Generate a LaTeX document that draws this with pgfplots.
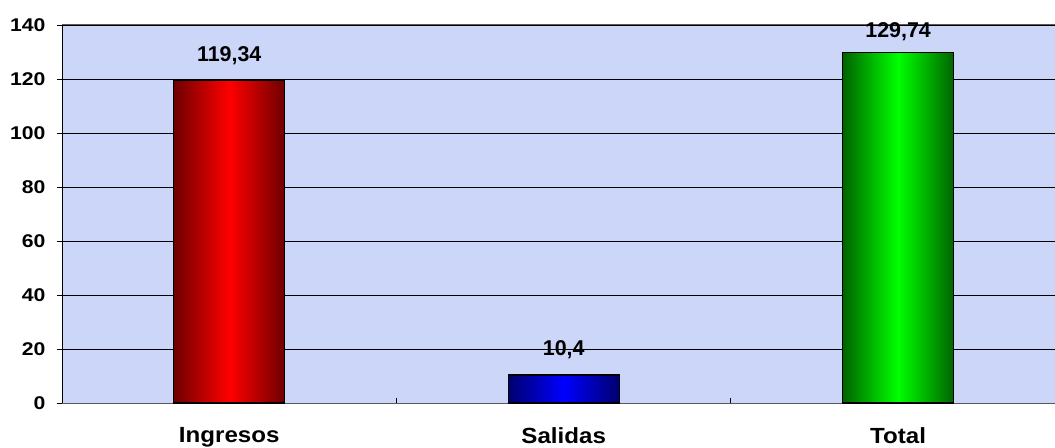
\documentclass[border=0pt]{standalone}
\usepackage{pgfplots}
\pgfplotsset{compat=1.18}
\usepackage{fontspec}
\setmainfont{Liberation Sans}
\newfontfamily\tickf[FakeStretch=1.15]{Liberation Sans}
\newfontfamily\catf[FakeStretch=1.1]{Liberation Sans}
\definecolor{bgc}{RGB}{203,214,248}
\definecolor{dred}{RGB}{110,0,0}
\definecolor{bred}{RGB}{255,0,0}
\definecolor{dblue}{RGB}{0,0,110}
\definecolor{bblue}{RGB}{0,0,255}
\definecolor{dgreen}{RGB}{0,100,0}
\definecolor{bgreen}{RGB}{0,255,0}
\begin{document}
\begin{tikzpicture}
\begin{axis}[
  scale only axis,
  width=993bp, height=378bp,
  xmin=-0.5, xmax=2.469,
  ymin=0, ymax=140,
  axis background/.style={fill=bgc},
  separate axis lines,
  x axis line style={draw=gray!70!black, line width=1pt},
  y axis line style={draw=none},
  ytick={0,20,...,140},
  ymajorgrids,
  major grid style={black, line width=0.8pt},
  y tick style={black, line width=0.8pt},
  ytick align=outside,
  ytick pos=left,
  major tick length=5bp,
  yticklabel style={font=\tickf\bfseries\fontsize{18.5}{20}\selectfont, xshift=-8bp},
  /pgf/number format/assume math mode=true,
  xtick={0,1,2},
  xticklabels={Ingresos,Salidas,Total},
  xticklabel style={font=\catf\bfseries\fontsize{22}{24}\selectfont, yshift=-21bp},
  x tick style={draw=none},
  xtick pos=bottom,
  extra x ticks={0.5,1.5},
  extra x tick labels={},
  extra x tick style={x tick style={draw=black, line width=1pt}, xtick align=inside, xmajorgrids=false},
  bar width=111bp,
  nodes near coords,
  every node near coord/.append style={font=\bfseries\fontsize{21.5}{23}\selectfont, yshift=12bp, black},
  clip=false,
]
\addplot[ybar, bar shift=0pt, draw=black, line width=1.2pt, left color=dred, right color=dred, middle color=bred,
  nodes near coords={119,34}] coordinates {(0,119.34)};
\addplot[ybar, bar shift=0pt, draw=black, line width=1.2pt, left color=dblue, right color=dblue, middle color=bblue,
  nodes near coords={10,4}] coordinates {(1,10.4)};
\addplot[ybar, bar shift=0pt, draw=black, line width=1.2pt, left color=dgreen, right color=dgreen, middle color=bgreen,
  nodes near coords={129,74}, every node near coord/.append style={yshift=-4bp}] coordinates {(2,129.74)};
\draw[gray!70!black, line width=1pt] (rel axis cs:0,1) -- (rel axis cs:1,1);
\draw[black, line width=1pt] (rel axis cs:0,0) -- (rel axis cs:0,1);
\coordinate (bl) at (rel axis cs:0,0);
\coordinate (tr) at (rel axis cs:1,1);
\end{axis}
\pgfresetboundingbox
\path[use as bounding box] ([xshift=-62bp,yshift=-45bp]bl) rectangle ([yshift=25bp]tr);
\end{tikzpicture}
\end{document}
